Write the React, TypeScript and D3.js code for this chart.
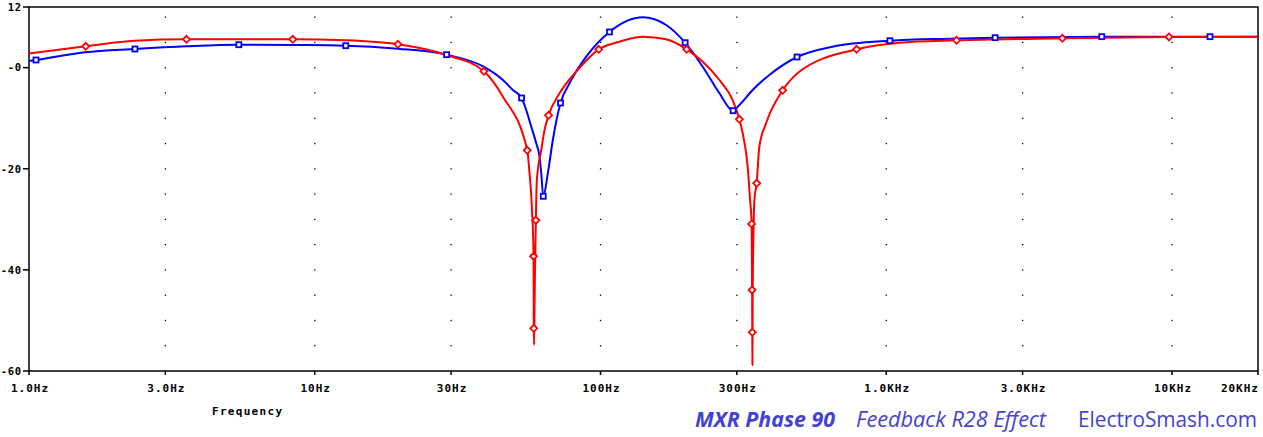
import { useEffect, useRef } from "react"
import * as d3 from 'd3'

// [Hz, dB, marker]
const blue: [number, number, number][] = [
  [1, 1.32, 0], [1.058, 1.52, 1], [1.57, 3.04, 0], [2.348, 3.69, 1], [3.567, 4.23, 0],
  [5.424, 4.54, 1], [8.378, 4.48, 0], [12.84, 4.35, 1], [19.51, 3.75, 0], [28.94, 2.57, 1],
  [38.98, 0.19, 0], [45.54, -2.44, 0], [49.36, -4.42, 0], [52.95, -6.0, 1], [54.97, -8.37, 0],
  [57.24, -11.68, 0], [59.59, -14.96, 0], [61.18, -17.61, 0], [62.04, -20.9, 0], [63.05, -25.44, 1],
  [65.42, -20.9, 0], [68.11, -14.31, 0], [72.46, -6.99, 1], [77.92, -3.09, 0], [89.13, 2.17, 0],
  [107.5, 7.06, 1], [140.6, 9.96, 0], [169.7, 8.44, 0], [197.8, 4.94, 1], [227.9, 0.19, 0],
  [260.8, -5.07, 0], [291.1, -8.51, 1], [306.2, -7.38, 0], [340.8, -4.42, 0], [389.8, -1.45, 0],
  [487.4, 2.11, 1], [649, 4.15, 0], [1030, 5.33, 1], [1661, 5.73, 0], [2405, 5.93, 1],
  [5679, 6.13, 1], [13580, 6.13, 1], [20000, 6.13, 0],
]

const red: [number, number, number][] = [
  [1, 2.8, 0], [1.579, 4.23, 1], [2.348, 5.33, 0], [3.559, 5.61, 1], [5.424, 5.61, 0],
  [8.378, 5.61, 1], [12.84, 5.41, 0], [19.55, 4.62, 1], [28.94, 2.51, 0], [39.08, -0.72, 1],
  [45.54, -5.74, 0], [55.42, -16.35, 1], [56.45, -20.9, 0], [57.52, -27.5, 0], [58.32, -37.3, 1],
  [58.42, -51.55, 1], [58.56, -54.86, 0], [58.93, -42, 0], [59.4, -30.19, 1], [59.88, -22.2, 0],
  [62.04, -16.29, 0], [63.7, -12.33, 0], [65.8, -9.42, 1], [71.9, -5.07, 0], [82.2, -0.8, 0],
  [98.6, 3.63, 1], [116.5, 5.14, 0], [140.6, 6.13, 0], [169.7, 5.61, 0], [200.3, 3.63, 1],
  [227.9, 1.18, 0], [260.8, -2.44, 0], [290.1, -6.4, 0], [306.2, -10.21, 1], [314.5, -12.98, 0],
  [327.4, -19.59, 0], [333.8, -26.18, 0], [338.1, -30.92, 1], [339.3, -43.98, 1], [339.8, -52.35, 1],
  [340.2, -58.8, 0], [340.9, -45, 0], [343.6, -30.9, 0], [345.6, -26.18, 0], [352.0, -22.87, 1],
  [359.7, -15.63, 0], [379.7, -11.0, 0], [434, -4.48, 1], [496.4, -0.8, 0], [787.6, 3.63, 1],
  [1111, 4.94, 0], [1762, 5.41, 1], [4134, 5.81, 1], [9761, 6.07, 1], [20000, 6.1, 0],
]

const xTicks = [1, 3, 10, 30, 100, 300, 1000, 3000, 10000, 20000]
const xLabels = ['1.0Hz', '3.0Hz', '10Hz', '30Hz', '100Hz', '300Hz', '1.0KHz', '3.0KHz', '10KHz', '20KHz']
const yTicks = [12, 0, -20, -40, -60]
const yLabels = ['12', '-0', '-20', '-40', '-60']
const yDots = d3.range(10, -60, -5)
const captions = [
  { text: 'MXR Phase 90', x: 695, len: 140, weight: 'bold', style: 'italic' },
  { text: 'Feedback R28 Effect', x: 856, len: 190, weight: 'normal', style: 'italic' },
  { text: 'ElectroSmash.com', x: 1078, len: 179, weight: 'normal', style: 'normal' },
]

export default function App() {
  const svgRef = useRef<SVGSVGElement>(null)

  useEffect(() => {
    d3.select(svgRef.current).selectAll('*').remove()
    if (!svgRef.current) return
    const svg = d3.select(svgRef.current)
    const margin = { top: 7, right: 1258, bottom: 371, left: 29 }
    const font = "'DejaVu Sans Mono', monospace"

    const xScale = d3.scaleLog().domain([1, 20000]).range([margin.left, margin.right])
    const yScale = d3.scaleLinear().domain([-60, 12]).range([margin.bottom, margin.top])

    // dotted grid
    const dots = svg.append('g')
    xTicks.slice(1, -1).forEach(f => {
      yDots.forEach(v => {
        dots.append('rect')
          .attr('x', xScale(f) - 0.6).attr('y', yScale(v) - 0.6)
          .attr('width', 1.3).attr('height', 1.3).attr('fill', '#000')
      })
    })

    // frame
    svg.append('rect')
      .attr('x', margin.left).attr('y', margin.top)
      .attr('width', margin.right - margin.left).attr('height', margin.bottom - margin.top)
      .attr('fill', 'none').attr('stroke', '#000').attr('stroke-width', 1.5)

    // y ticks
    yTicks.forEach((v, i) => {
      svg.append('line')
        .attr('x1', margin.left - 6).attr('x2', margin.left)
        .attr('y1', yScale(v)).attr('y2', yScale(v))
        .attr('stroke', '#000').attr('stroke-width', 1.5)
      svg.append('text')
        .attr('x', 22).attr('y', yScale(v)).attr('dy', '0.36em')
        .attr('text-anchor', 'end')
        .attr('font-family', font).attr('font-weight', 'bold').attr('font-size', 10.5)
        .attr('letter-spacing', 0.8)
        .text(yLabels[i])
    })

    // x ticks
    xTicks.forEach((f, i) => {
      svg.append('line')
        .attr('x1', xScale(f)).attr('x2', xScale(f))
        .attr('y1', margin.bottom).attr('y2', margin.bottom + 4)
        .attr('stroke', '#000').attr('stroke-width', 1.5)
      const last = i === xTicks.length - 1
      svg.append('text')
        .attr('x', xScale(f) + 1).attr('y', 392)
        .attr('text-anchor', last ? 'end' : 'middle')
        .attr('font-family', font).attr('font-weight', 'bold').attr('font-size', 11)
        .attr('letter-spacing', 1)
        .text(xLabels[i])
    })

    svg.append('text')
      .attr('x', 212).attr('y', 415)
      .attr('font-family', font).attr('font-weight', 'bold').attr('font-size', 11)
      .attr('letter-spacing', 1.3)
      .text('Frequency')

    const line = d3.line<[number, number, number]>()
      .x(d => xScale(d[0]))
      .y(d => yScale(d[1]))
      .curve(d3.curveMonotoneX)

    const series = [
      { data: blue, color: '#0000ff', shape: 'square' },
      { data: red, color: '#ff0000', shape: 'diamond' },
    ]

    series.forEach(s => {
      svg.append('path')
        .datum(s.data)
        .attr('fill', 'none')
        .attr('stroke', s.color)
        .attr('stroke-width', 2)
        .attr('d', line)
    })

    series.forEach(s => {
      const pts = s.data.filter(d => d[2] === 1)
      if (s.shape === 'square') {
        svg.append('g').selectAll('rect').data(pts).join('rect')
          .attr('x', d => xScale(d[0]) - 2.5).attr('y', d => yScale(d[1]) - 2.5)
          .attr('width', 5).attr('height', 5)
          .attr('fill', '#fff').attr('stroke', s.color).attr('stroke-width', 1.8)
      } else {
        svg.append('g').selectAll('path').data(pts).join('path')
          .attr('transform', d => `translate(${xScale(d[0])},${yScale(d[1])})`)
          .attr('d', 'M0,-3.5L3.5,0L0,3.5L-3.5,0Z')
          .attr('fill', '#fff').attr('stroke', s.color).attr('stroke-width', 1.8)
      }
    })

    // caption
    captions.forEach(c => {
      svg.append('text')
        .attr('x', c.x).attr('y', 427)
        .attr('font-family', "'Open Sans', sans-serif").attr('font-size', 21)
        .attr('font-weight', c.weight).attr('font-style', c.style)
        .attr('fill', '#4343d0')
        .attr('textLength', c.len).attr('lengthAdjust', 'spacingAndGlyphs')
        .text(c.text)
    })
  }, [])

  return (
    <div className="graph-container">
      <svg ref={svgRef} width="1263" height="437"
        style={{ position: 'absolute', left: 0, top: 0, display: 'block', background: '#fff' }}></svg>
    </div>
  )
}
